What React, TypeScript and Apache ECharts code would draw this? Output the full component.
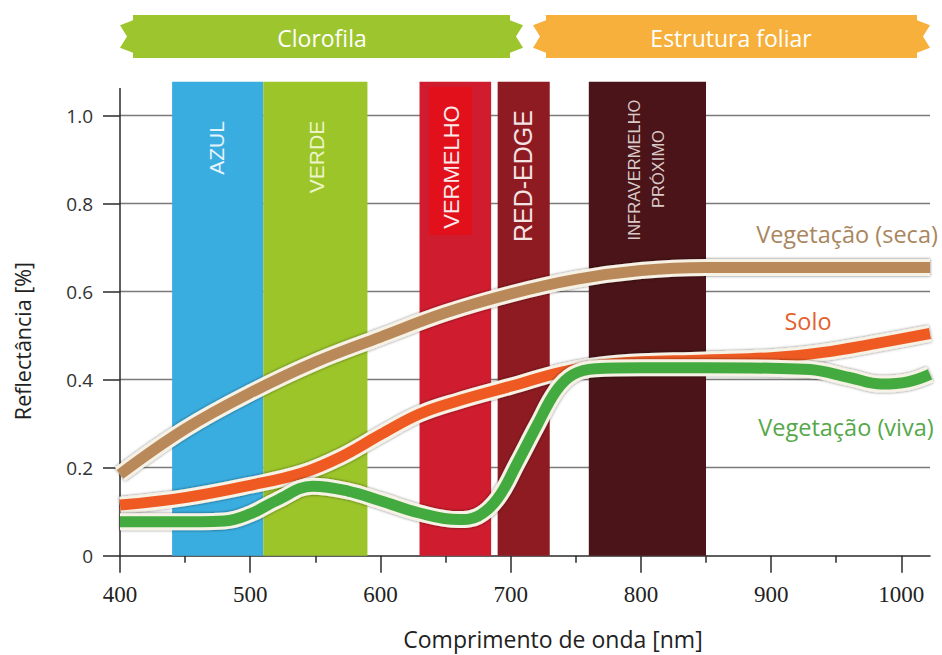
import React, { useEffect, useRef } from "react";
import * as echarts from "echarts";

// ---- axes ----
const xMin = 400;
const xMax = 1022;
const yMax = 1.08;
const xTicks = [400, 500, 600, 700, 800, 900, 1000];
const xMinorTicks = [450, 550, 650, 750, 850, 950];
const yTicks = [0, 0.2, 0.4, 0.6, 0.8, 1.0];
const gridValues = [0.2, 0.4, 0.6, 0.8, 1.0];
const yAxisTop = 1.063;

// ---- spectral bands ----
const bandNames = ["AZUL", "VERDE", "VERMELHO", "RED-EDGE", "INFRAVERMELHO PRÓXIMO"];
const bandStart = [440, 510, 630, 690, 760];
const bandEnd = [510, 590, 685, 730, 850];
const bandColors = ["#3aade0", "#9cc52a", "#cf1d2f", "#8e1b22", "#4a1418"];
const bandTop = 1.077;

// ---- curves ----
const dryX = [400, 450, 500, 550, 600, 650, 700, 750, 800, 850, 900, 950, 1022];
const dryY = [0.185, 0.288, 0.37, 0.44, 0.497, 0.552, 0.595, 0.628, 0.648, 0.655, 0.655, 0.655, 0.655];

const soilX = [400, 450, 500, 540, 570, 600, 630, 660, 700, 740, 780, 850, 900, 940, 980, 1022];
const soilY = [0.115, 0.132, 0.16, 0.188, 0.225, 0.275, 0.322, 0.352, 0.385, 0.418, 0.437, 0.445, 0.45, 0.462, 0.482, 0.505];

const liveX = [400, 440, 480, 500, 520, 548, 575, 600, 630, 660, 675, 690, 705, 720, 735, 748, 765, 800, 850, 900, 930, 960, 985, 1005, 1022];
const liveY = [0.077, 0.077, 0.079, 0.095, 0.125, 0.158, 0.147, 0.125, 0.097, 0.082, 0.09, 0.13, 0.21, 0.295, 0.375, 0.412, 0.425, 0.427, 0.427, 0.426, 0.423, 0.405, 0.39, 0.395, 0.412];

const curveNames = ["Vegetação (seca)", "Solo", "Vegetação (viva)"];
const curveColors = ["#b9895a", "#ee5a22", "#43aa3f"];
const labelColors = ["#a9865e", "#e4622f", "#56a84a"];

const headerNames = ["Clorofila", "Estrutura foliar"];
const headerColors = ["#9dc52d", "#f6b03b"];

const zip = (xs: number[], ys: number[]) => xs.map((x, i) => [x, ys[i]]);

export default function App() {
  const ref = useRef<HTMLDivElement>(null);

  useEffect(() => {
    if (!ref.current) return;
    const chart = echarts.init(ref.current, undefined, { renderer: "svg" });

    const curves = [zip(dryX, dryY), zip(soilX, soilY), zip(liveX, liveY)];
    const curveSeries: any[] = [];
    curves.forEach((d, i) => {
      curveSeries.push({
        type: "line",
        name: curveNames[i] + "-outline",
        data: d,
        smooth: 0.4,
        showSymbol: false,
        symbol: "none",
        silent: true,
        z: 3 + i * 2,
        lineStyle: {
          color: "#f7f2e6",
          width: 17,
          cap: "butt",
          shadowBlur: 3,
          shadowColor: "rgba(0,0,0,0.55)",
        },
      });
      curveSeries.push({
        type: "line",
        name: curveNames[i],
        data: d,
        smooth: 0.4,
        showSymbol: false,
        symbol: "none",
        silent: true,
        z: 4 + i * 2,
        lineStyle: { color: curveColors[i], width: 11, cap: "butt" },
      });
    });

    const ribbon = (x0: number, x1: number, y0: number, y1: number) => {
      const ym = (y0 + y1) / 2;
      const h = y1 - y0;
      return [
        [x0 + 13, y0],
        [x1 - 13, y0],
        [x1 - 13, y0 + h * 0.12],
        [x1, y0 + h * 0.24],
        [x1 - 7, ym],
        [x1, y1 - h * 0.24],
        [x1 - 13, y1 - h * 0.12],
        [x1 - 13, y1],
        [x0 + 13, y1],
        [x0 + 13, y1 - h * 0.12],
        [x0, y1 - h * 0.24],
        [x0 + 7, ym],
        [x0, y0 + h * 0.24],
        [x0 + 13, y0 + h * 0.12],
      ];
    };

    const bandLabel = (text: string, x: number, y: number, size: number, fill: string, weight = "normal") => ({
      type: "text",
      x,
      y,
      rotation: Math.PI / 2,
      z: 20,
      style: {
        text,
        fill,
        fontSize: size,
        fontFamily: "Liberation Sans, Arial, sans-serif",
        fontWeight: weight,
        align: "center",
        verticalAlign: "middle",
      },
    });

    const sideLabel = (text: string, x: number, y: number, fill: string) => ({
      type: "text",
      x,
      y,
      z: 21,
      style: { text, fill, fontSize: 23.5, fontFamily: "Open Sans, sans-serif", align: "center", verticalAlign: "middle" },
    });

    const option: any = {
      animation: false,
      backgroundColor: "#ffffff",
      grid: { left: 120, right: 12, top: 80.5, bottom: 99.3 },
      xAxis: [
        {
          type: "value",
          min: xMin,
          max: xMax,
          interval: 100,
          axisLine: { show: true, lineStyle: { color: "#2a2a2a", width: 1.5 } },
          axisTick: { show: true, length: 17, customValues: xTicks, lineStyle: { color: "#2a2a2a", width: 1.5 } },
          axisLabel: {
            customValues: xTicks,
            margin: 27,
            fontSize: 23,
            fontFamily: "Liberation Serif, Times New Roman, serif",
            color: "#222",
            formatter: (v: number) => String(v),
          },
          splitLine: { show: false },
        },
        {
          type: "value",
          position: "bottom",
          min: xMin,
          max: xMax,
          interval: 100,
          axisLine: { show: false },
          axisTick: { show: true, length: 7, customValues: xMinorTicks, lineStyle: { color: "#2a2a2a", width: 1.5 } },
          axisLabel: { show: false },
          splitLine: { show: false },
        },
      ],
      yAxis: {
        type: "value",
        min: 0,
        max: yMax,
        interval: 0.2,
        axisLine: { show: false },
        axisTick: { show: true, length: 17, customValues: yTicks, lineStyle: { color: "#2a2a2a", width: 1.5 } },
        axisLabel: {
          customValues: yTicks,
          margin: 27,
          fontSize: 19,
          fontFamily: "Open Sans, sans-serif",
          color: "#333",
          formatter: (v: number) => (v === 0 ? "0" : v.toFixed(1)),
        },
        splitLine: { show: false },
      },
      series: [
        {
          type: "line",
          name: "grid",
          data: [],
          silent: true,
          z: 0,
          markLine: {
            z: 0,
            silent: true,
            symbol: ["none", "none"],
            label: { show: false },
            lineStyle: { color: "#7a7a7a", width: 1.3, type: "solid" },
            data: gridValues.map((v) => ({ yAxis: v })),
          },
        },
        {
          type: "line",
          name: "bands",
          data: [],
          silent: true,
          z: 1,
          markArea: {
            silent: true,
            label: { show: false },
            data: bandNames.map((n, i) => [
              { name: n, xAxis: bandStart[i], yAxis: 0, itemStyle: { color: bandColors[i], opacity: 1 } },
              { xAxis: bandEnd[i], yAxis: bandTop },
            ]),
          },
        },
        {
          type: "line",
          name: "yaxis",
          data: [],
          silent: true,
          z: 2,
          markLine: {
            z: 2,
            silent: true,
            symbol: ["none", "none"],
            label: { show: false },
            lineStyle: { color: "#2a2a2a", width: 1.5, type: "solid" },
            data: [[{ coord: [xMin, 0] }, { coord: [xMin, yAxisTop] }]],
          },
        },
        ...curveSeries,
      ],
      graphic: [
        { type: "polygon", z: 20, shape: { points: ribbon(120, 523, 15, 58) }, style: { fill: headerColors[0] } },
        { type: "polygon", z: 20, shape: { points: ribbon(533, 930, 15, 58) }, style: { fill: headerColors[1] } },
        {
          type: "text",
          x: 322,
          y: 38,
          z: 21,
          style: { text: headerNames[0], fill: "#ffffff", fontSize: 23, fontFamily: "Open Sans, sans-serif", align: "center", verticalAlign: "middle" },
        },
        {
          type: "text",
          x: 731,
          y: 38,
          z: 21,
          style: { text: headerNames[1], fill: "#ffffff", fontSize: 23, fontFamily: "Open Sans, sans-serif", align: "center", verticalAlign: "middle" },
        },
        { type: "rect", z: 19, shape: { x: 429, y: 87, width: 43, height: 148 }, style: { fill: "#e1101b" } },
        bandLabel("AZUL", 216, 148, 21, "#e4f3fb"),
        bandLabel("VERDE", 316, 157, 21, "#eef4c8"),
        bandLabel("VERMELHO", 451, 167, 22, "#fbe9ea"),
        bandLabel("RED-EDGE", 523, 176, 25, "#f3e3e3"),
        bandLabel("INFRAVERMELHO", 634, 170, 16.5, "#d9c9c9"),
        bandLabel("PRÓXIMO", 658, 169, 16.5, "#d9c9c9"),
        sideLabel(curveNames[0], 847, 234, labelColors[0]),
        sideLabel(curveNames[1], 808, 321, labelColors[1]),
        sideLabel(curveNames[2], 846, 427, labelColors[2]),
        {
          type: "text",
          x: 22,
          y: 341,
          z: 21,
          rotation: Math.PI / 2,
          style: { text: "Reflectância [%]", fill: "#222", fontSize: 21.5, fontFamily: "Open Sans, sans-serif", align: "center", verticalAlign: "middle" },
        },
        {
          type: "text",
          x: 553,
          y: 639,
          z: 21,
          style: { text: "Comprimento de onda [nm]", fill: "#222", fontSize: 23, fontFamily: "Open Sans, sans-serif", align: "center", verticalAlign: "middle" },
        },
      ],
    };

    chart.setOption(option);
    return () => chart.dispose();
  }, []);

  return (
    <div
      ref={ref}
      style={{ position: "fixed", left: 0, top: 0, width: 942, height: 655, background: "#fff" }}
    />
  );
}
